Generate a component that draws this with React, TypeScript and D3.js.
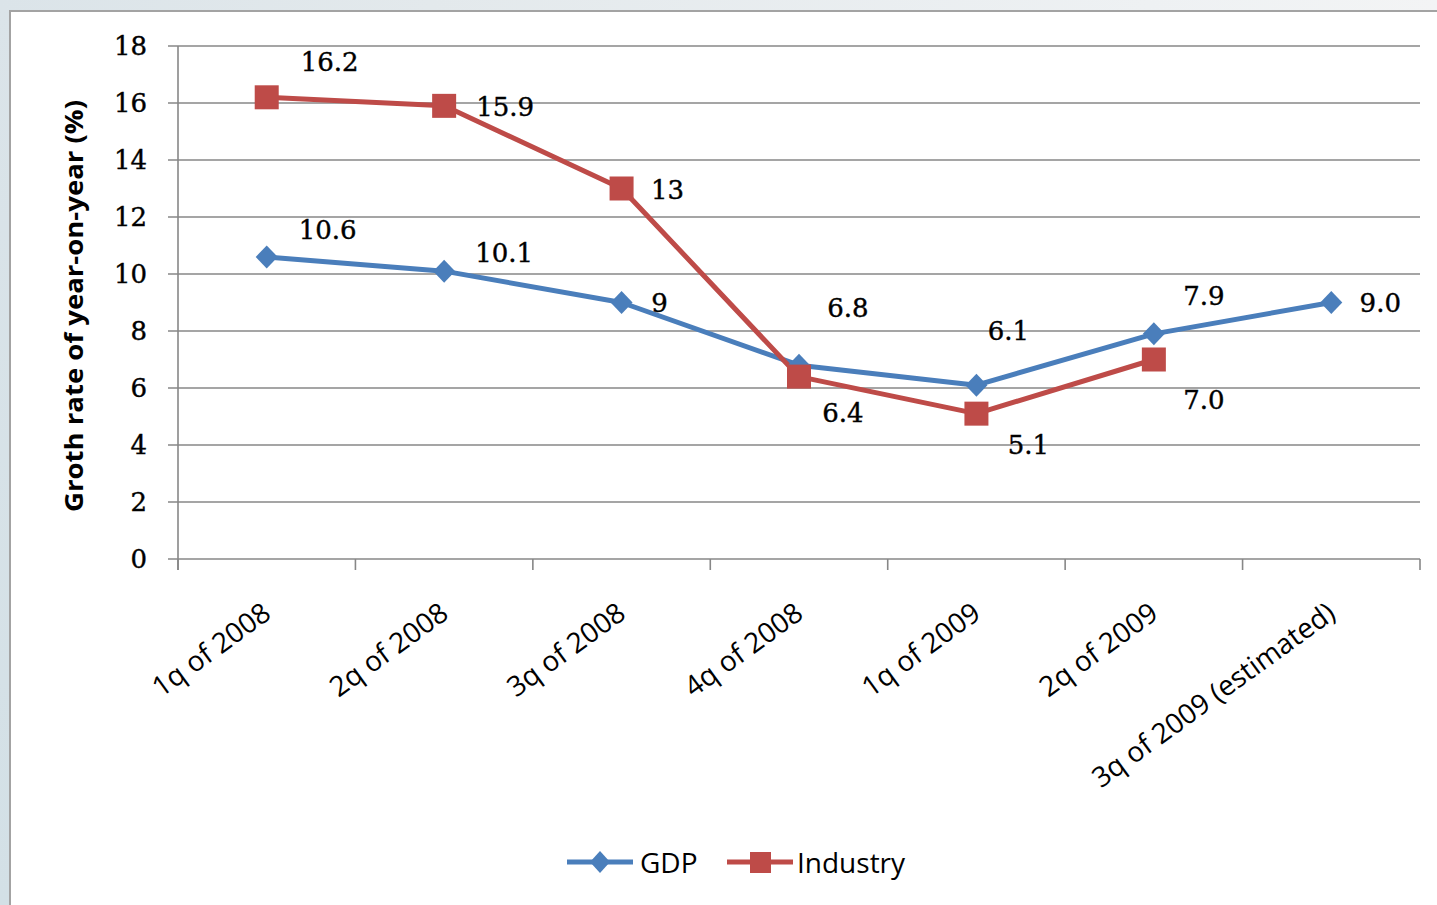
import React from "react";
import * as d3 from "d3";

const categories = [
  "1q of 2008",
  "2q of 2008",
  "3q of 2008",
  "4q of 2008",
  "1q of 2009",
  "2q of 2009",
  "3q of 2009 (estimated)",
];
const gdpValues = [10.6, 10.1, 9, 6.8, 6.1, 7.9, 9.0];
const gdpLabels = ["10.6", "10.1", "9", "6.8", "6.1", "7.9", "9.0"];
const industryValues: (number | null)[] = [16.2, 15.9, 13, 6.4, 5.1, 7.0, null];
const industryLabels = ["16.2", "15.9", "13", "6.4", "5.1", "7.0", ""];
const yTicks = [0, 2, 4, 6, 8, 10, 12, 14, 16, 18];

// label placement offsets (px) relative to each point
const gdpLabelOffsets = [
  [61, -27], [60, -18], [38, 0], [49, -57], [32, -54], [50, -38], [49, 0],
];
const industryLabelOffsets = [
  [63, -35], [61, 1], [46, 1], [44, 36], [52, 31], [50, 40], [0, 0],
];

const W = 1437;
const H = 905;
const left = 178;
const right = 1420;
const top = 46;
const bottom = 559;

const GDP_COLOR = "#4a7ebb";
const IND_COLOR = "#be4b48";
const GRID = "#878787";
const SERIF = "'DejaVu Serif', 'Liberation Serif', serif";
const SANS = "'Open Sans', 'Noto Sans', sans-serif";

export default function App() {
  const x = d3.scaleBand<string>().domain(categories).range([left, right]).padding(0);
  const y = d3.scaleLinear().domain([0, 18]).range([bottom, top]);
  const cx = (c: string) => (x(c) as number) + x.bandwidth() / 2;

  const gdpPts = categories.map((c, i) => ({ c, v: gdpValues[i], i }));
  const indPts = categories
    .map((c, i) => ({ c, v: industryValues[i], i }))
    .filter((d) => d.v !== null) as { c: string; v: number; i: number }[];

  const line = d3
    .line<{ c: string; v: number }>()
    .x((d) => cx(d.c))
    .y((d) => y(d.v));

  const diamond = (px: number, py: number, w: number, h: number) =>
    `M${px},${py - h / 2}L${px + w / 2},${py}L${px},${py + h / 2}L${px - w / 2},${py}Z`;

  const boundaries = d3.range(categories.length + 1).map((i) => left + i * x.bandwidth());

  return (
    <svg
      width={W}
      height={H}
      style={{ position: "absolute", left: 0, top: 0, display: "block" }}
    >
      <defs>
        <linearGradient id="bgTop" x1="0" y1="0" x2="1" y2="0">
          <stop offset="0" stopColor="#dbe4e9" />
          <stop offset="0.3" stopColor="#e3e9ec" />
          <stop offset="0.8" stopColor="#eef1f3" />
          <stop offset="1" stopColor="#f3f4f5" />
        </linearGradient>
        <linearGradient id="bgLeft" x1="0" y1="0" x2="0" y2="1">
          <stop offset="0" stopColor="#dbe4e9" />
          <stop offset="1" stopColor="#d3e0e6" />
        </linearGradient>
      </defs>
      <rect x={0} y={0} width={W} height={H} fill="url(#bgLeft)" />
      <rect x={0} y={0} width={W} height={11} fill="url(#bgTop)" />
      <rect x={10} y={11} width={W} height={H} fill="#ffffff" stroke="#a3a3a3" strokeWidth={2} />

      {/* gridlines */}
      {yTicks.map((t) => (
        <line key={"g" + t} x1={left - 10} x2={right} y1={y(t)} y2={y(t)} stroke={GRID} strokeWidth={1.6} />
      ))}
      {/* y axis */}
      <line x1={left} x2={left} y1={top} y2={bottom + 11} stroke={GRID} strokeWidth={1.6} />
      {/* x ticks */}
      {boundaries.map((b, i) => (
        <line key={"t" + i} x1={b} x2={b} y1={bottom} y2={bottom + 11} stroke={GRID} strokeWidth={1.6} />
      ))}

      {/* y tick labels */}
      {yTicks.map((t) => (
        <text
          key={"yl" + t}
          x={147}
          y={y(t)}
          textAnchor="end"
          dominantBaseline="central"
          fontFamily={SERIF}
          fontSize={26}
          stroke="#000"
          strokeWidth={0.4}
          fill="#000"
        >
          {t}
        </text>
      ))}

      {/* y axis title */}
      <text
        transform={`translate(73,306) rotate(-90)`}
        textAnchor="middle"
        dominantBaseline="central"
        fontFamily={SANS}
        fontWeight="bold"
        fontSize={25}
        textLength={412}
        lengthAdjust="spacingAndGlyphs"
        fill="#000"
      >
        Groth rate of year-on-year (%)
      </text>

      {/* x labels */}
      {categories.map((c) => (
        <text
          key={"xl" + c}
          transform={`translate(${cx(c) + 6},617) rotate(-36)`}
          textAnchor="end"
          fontFamily={SANS}
          fontSize={28}
          fill="#000"
        >
          {c}
        </text>
      ))}

      {/* lines */}
      <path d={line(gdpPts) || ""} fill="none" stroke={GDP_COLOR} strokeWidth={5} strokeLinejoin="round" />
      <path d={line(indPts) || ""} fill="none" stroke={IND_COLOR} strokeWidth={5} strokeLinejoin="round" />

      {/* markers */}
      {gdpPts.map((d) => (
        <path key={"gm" + d.i} d={diamond(cx(d.c), y(d.v), 22, 23)} fill={GDP_COLOR} />
      ))}
      {indPts.map((d) => (
        <rect
          key={"im" + d.i}
          x={cx(d.c) - 12}
          y={y(d.v) - 12}
          width={24}
          height={24}
          fill={IND_COLOR}
        />
      ))}

      {/* data labels */}
      {gdpPts.map((d) => (
        <text
          key={"gl" + d.i}
          x={cx(d.c) + gdpLabelOffsets[d.i][0]}
          y={y(d.v) + gdpLabelOffsets[d.i][1]}
          textAnchor="middle"
          dominantBaseline="central"
          fontFamily={SERIF}
          fontSize={26}
          stroke="#000"
          strokeWidth={0.4}
          fill="#000"
        >
          {gdpLabels[d.i]}
        </text>
      ))}
      {indPts.map((d) => (
        <text
          key={"il" + d.i}
          x={cx(d.c) + industryLabelOffsets[d.i][0]}
          y={y(d.v) + industryLabelOffsets[d.i][1]}
          textAnchor="middle"
          dominantBaseline="central"
          fontFamily={SERIF}
          fontSize={26}
          stroke="#000"
          strokeWidth={0.4}
          fill="#000"
        >
          {industryLabels[d.i]}
        </text>
      ))}

      {/* legend */}
      <g>
        <line x1={567} x2={633} y1={862} y2={862} stroke={GDP_COLOR} strokeWidth={5} />
        <path d={diamond(600, 862, 20, 22)} fill={GDP_COLOR} />
        <text x={640} y={862} dominantBaseline="central" fontFamily={SANS} fontSize={28} fill="#000">
          GDP
        </text>
        <line x1={727} x2={793} y1={862} y2={862} stroke={IND_COLOR} strokeWidth={5} />
        <rect x={750} y={852} width={21} height={21} fill={IND_COLOR} />
        <text x={797} y={862} dominantBaseline="central" fontFamily={SANS} fontSize={28} fill="#000">
          Industry
        </text>
      </g>
    </svg>
  );
}
